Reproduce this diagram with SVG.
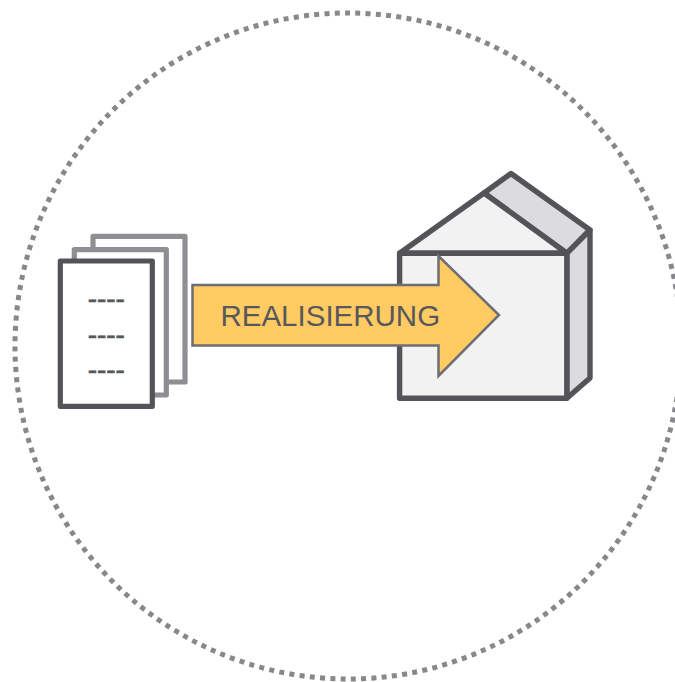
<svg xmlns="http://www.w3.org/2000/svg" width="675" height="682" viewBox="0 0 675 682">
<style>
.page{fill:#fff;stroke-width:5.2;stroke-linejoin:round}
.back{stroke:#8e8e93}
.front{stroke:#545458}
.dash{font:28px "Liberation Sans",Arial,sans-serif;fill:#58585c;stroke:#58585c;stroke-width:.7;text-anchor:middle}
.wall{stroke:#545458;stroke-width:5.4;stroke-linejoin:round}
</style>
<rect width="675" height="682" fill="#fff"/>
<g id="boundary"><circle cx="348" cy="346" r="333" fill="none" stroke="#88888c" stroke-width="5" stroke-dasharray="5 5.3"/></g>
<g id="documents">
<rect class="page back" x="93" y="236.3" width="92" height="145.7"/>
<rect class="page back" x="74.3" y="249.6" width="92" height="145.4"/>
<rect class="page front" x="60.3" y="261" width="92" height="145.3"/>
<text class="dash" x="106.300" y="308">----</text>
<text class="dash" x="106.300" y="344">----</text>
<text class="dash" x="106.300" y="379">----</text>
</g>
<g id="house">
<path class="wall" fill="#dcdcde" d="M484 193L511 173.500L590 230L566.800 253.300Z"/>
<path class="wall" fill="#dcdcde" d="M566.800 253.300L590 230V378L566.800 398.300Z"/>
<path class="wall" fill="#f2f2f2" d="M399.600 253.300L484 193L566.800 253.300Z"/>
<rect class="wall" fill="#f2f2f2" x="399.600" y="253.300" width="167.200" height="145"/>
</g>
<g id="arrow">
<path fill="#ffcb62" stroke="#6d6e73" stroke-width="2.500" d="M192.500 285H438.500V256L499 315L438.500 376V345.500H192.500Z"/>
<text x="330.300" y="326" font-family="'Liberation Sans',Arial,sans-serif" font-size="29.500" fill="#58585c" text-anchor="middle">REALISIERUNG</text>
</g>
</svg>
